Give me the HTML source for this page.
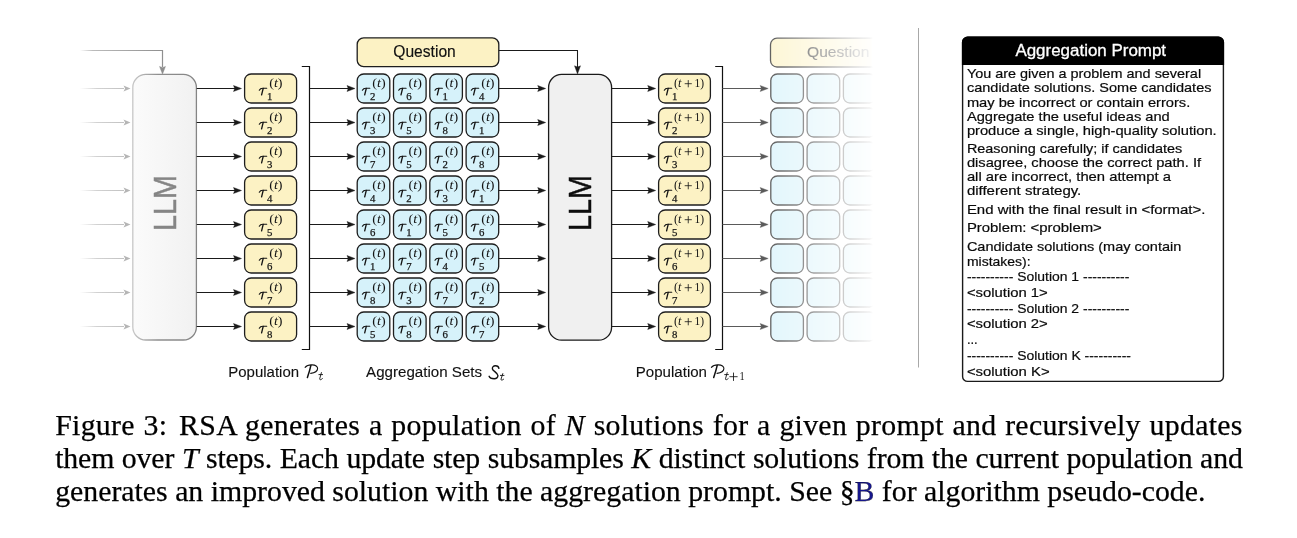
<!DOCTYPE html>
<html><head><meta charset="utf-8"><style>
html,body{margin:0;padding:0;background:#fff;width:1297px;height:538px;overflow:hidden;position:relative}
.cap{position:absolute;left:55.2px;top:408.7px;width:1187.5px;font-family:"Liberation Serif",serif;font-size:29.8px;line-height:32.9px;color:#000;white-space:nowrap;-webkit-text-stroke:0.25px #000}
.j{text-align:justify;text-align-last:justify}
</style></head><body>
<svg width="1297" height="538" viewBox="0 0 1297 538" style="position:absolute;left:0;top:0;will-change:transform"><defs>
<linearGradient id="llm1g" x1="0" x2="1" y1="0" y2="0">
 <stop offset="0" stop-color="#fbfbfb"/><stop offset="1" stop-color="#f1f1f1"/></linearGradient>
<linearGradient id="llm1s" x1="0" x2="1" y1="0" y2="0">
 <stop offset="0" stop-color="#c8c8c8"/><stop offset="0.4" stop-color="#8e8e8e"/><stop offset="1" stop-color="#858585"/></linearGradient>
<linearGradient id="fbg" gradientUnits="userSpaceOnUse" x1="80" x2="165" y1="0" y2="0">
 <stop offset="0" stop-color="#fff"/><stop offset="0.15" stop-color="#bbb"/><stop offset="1" stop-color="#8e8e8e"/></linearGradient>
<linearGradient id="fadein" gradientUnits="userSpaceOnUse" x1="80" x2="165" y1="0" y2="0">
 <stop offset="0" stop-color="#fff"/><stop offset="0.2" stop-color="#d2d2d2"/><stop offset="0.55" stop-color="#c0c0c0"/><stop offset="1" stop-color="#a8a8a8"/></linearGradient>
<linearGradient id="fadeout" gradientUnits="userSpaceOnUse" x1="770" x2="873" y1="0" y2="0">
 <stop offset="0" stop-color="#fff" stop-opacity="0.7"/><stop offset="0.97" stop-color="#fff" stop-opacity="0.06"/><stop offset="1" stop-color="#fff" stop-opacity="0"/></linearGradient>
<mask id="fademask" maskUnits="userSpaceOnUse" x="760" y="0" width="140" height="400">
 <rect x="760" y="0" width="140" height="400" fill="url(#fadeout)"/></mask>
<linearGradient id="qfade" gradientUnits="userSpaceOnUse" x1="770" x2="875" y1="0" y2="0">
 <stop offset="0" stop-color="#fff"/><stop offset="1" stop-color="#fff"/></linearGradient>
</defs>
<path d="M80,50.5 H162.5 V67" fill="none" stroke="url(#fbg)" stroke-width="1.2"/>
<path d="M162.5,74.2 L159.5,66.4 L162.5,67.6 L165.5,66.4 Z" fill="#8e8e8e" stroke="#8e8e8e" stroke-width="0.4" stroke-linejoin="round"/>
<line x1="80" y1="88.5" x2="124" y2="88.5" stroke="url(#fadein)" stroke-width="1.1"/>
<path d="M130.5,88.5 L123.5,85.4 L125.1,88.5 L123.5,91.6 Z" fill="#b5b5b5"/>
<line x1="80" y1="122.5" x2="124" y2="122.5" stroke="url(#fadein)" stroke-width="1.1"/>
<path d="M130.5,122.5 L123.5,119.4 L125.1,122.5 L123.5,125.6 Z" fill="#b5b5b5"/>
<line x1="80" y1="156.5" x2="124" y2="156.5" stroke="url(#fadein)" stroke-width="1.1"/>
<path d="M130.5,156.5 L123.5,153.4 L125.1,156.5 L123.5,159.6 Z" fill="#b5b5b5"/>
<line x1="80" y1="190.5" x2="124" y2="190.5" stroke="url(#fadein)" stroke-width="1.1"/>
<path d="M130.5,190.5 L123.5,187.4 L125.1,190.5 L123.5,193.6 Z" fill="#b5b5b5"/>
<line x1="80" y1="224.5" x2="124" y2="224.5" stroke="url(#fadein)" stroke-width="1.1"/>
<path d="M130.5,224.5 L123.5,221.4 L125.1,224.5 L123.5,227.6 Z" fill="#b5b5b5"/>
<line x1="80" y1="258.5" x2="124" y2="258.5" stroke="url(#fadein)" stroke-width="1.1"/>
<path d="M130.5,258.5 L123.5,255.4 L125.1,258.5 L123.5,261.6 Z" fill="#b5b5b5"/>
<line x1="80" y1="292.5" x2="124" y2="292.5" stroke="url(#fadein)" stroke-width="1.1"/>
<path d="M130.5,292.5 L123.5,289.4 L125.1,292.5 L123.5,295.6 Z" fill="#b5b5b5"/>
<line x1="80" y1="326.5" x2="124" y2="326.5" stroke="url(#fadein)" stroke-width="1.1"/>
<path d="M130.5,326.5 L123.5,323.4 L125.1,326.5 L123.5,329.6 Z" fill="#b5b5b5"/>
<rect x="132.8" y="74.4" width="63.6" height="265.6" rx="13" fill="url(#llm1g)" stroke="url(#llm1s)" stroke-width="1.3"/>
<text transform="translate(175.5,203) rotate(-90)" text-anchor="middle" font-family="Liberation Sans" font-size="31" fill="#858585" stroke="#858585" stroke-width="0.5" textLength="56" lengthAdjust="spacingAndGlyphs">LLM</text>
<line x1="196.7" y1="88.5" x2="235.0" y2="88.5" stroke="#1a1a1a" stroke-width="1.1"/><path d="M241.5,88.5 L233.5,85.5 L234.7,88.5 L233.5,91.5 Z" fill="#1a1a1a" stroke="#1a1a1a" stroke-width="0.4" stroke-linejoin="round"/>
<line x1="196.7" y1="122.5" x2="235.0" y2="122.5" stroke="#1a1a1a" stroke-width="1.1"/><path d="M241.5,122.5 L233.5,119.5 L234.7,122.5 L233.5,125.5 Z" fill="#1a1a1a" stroke="#1a1a1a" stroke-width="0.4" stroke-linejoin="round"/>
<line x1="196.7" y1="156.5" x2="235.0" y2="156.5" stroke="#1a1a1a" stroke-width="1.1"/><path d="M241.5,156.5 L233.5,153.5 L234.7,156.5 L233.5,159.5 Z" fill="#1a1a1a" stroke="#1a1a1a" stroke-width="0.4" stroke-linejoin="round"/>
<line x1="196.7" y1="190.5" x2="235.0" y2="190.5" stroke="#1a1a1a" stroke-width="1.1"/><path d="M241.5,190.5 L233.5,187.5 L234.7,190.5 L233.5,193.5 Z" fill="#1a1a1a" stroke="#1a1a1a" stroke-width="0.4" stroke-linejoin="round"/>
<line x1="196.7" y1="224.5" x2="235.0" y2="224.5" stroke="#1a1a1a" stroke-width="1.1"/><path d="M241.5,224.5 L233.5,221.5 L234.7,224.5 L233.5,227.5 Z" fill="#1a1a1a" stroke="#1a1a1a" stroke-width="0.4" stroke-linejoin="round"/>
<line x1="196.7" y1="258.5" x2="235.0" y2="258.5" stroke="#1a1a1a" stroke-width="1.1"/><path d="M241.5,258.5 L233.5,255.5 L234.7,258.5 L233.5,261.5 Z" fill="#1a1a1a" stroke="#1a1a1a" stroke-width="0.4" stroke-linejoin="round"/>
<line x1="196.7" y1="292.5" x2="235.0" y2="292.5" stroke="#1a1a1a" stroke-width="1.1"/><path d="M241.5,292.5 L233.5,289.5 L234.7,292.5 L233.5,295.5 Z" fill="#1a1a1a" stroke="#1a1a1a" stroke-width="0.4" stroke-linejoin="round"/>
<line x1="196.7" y1="326.5" x2="235.0" y2="326.5" stroke="#1a1a1a" stroke-width="1.1"/><path d="M241.5,326.5 L233.5,323.5 L234.7,326.5 L233.5,329.5 Z" fill="#1a1a1a" stroke="#1a1a1a" stroke-width="0.4" stroke-linejoin="round"/>
<rect x="244.6" y="74.0" width="52" height="29.0" rx="6.5" fill="#fcf2c4" stroke="#1e1e1e" stroke-width="1.3"/>
<path d="M259.30,90.20 Q260.30,88.20 262.70,88.20 L266.70,88.20" fill="none" stroke="#141414" stroke-width="1.15" stroke-linecap="round"/><path d="M263.20,88.40 L261.60,94.80" fill="none" stroke="#141414" stroke-width="1.35" stroke-linecap="round"/><text x="266.90" y="99.60" font-family="Liberation Serif" font-size="11.4" fill="#141414" stroke="#141414" stroke-width="0.25" textLength="5.4" lengthAdjust="spacingAndGlyphs">1</text><text x="269.20" y="86.90" font-family="Liberation Serif" font-size="12.3" fill="#141414" textLength="13.4" lengthAdjust="spacingAndGlyphs">(<tspan font-style="italic">t</tspan>)</text>
<rect x="244.6" y="108.0" width="52" height="29.0" rx="6.5" fill="#fcf2c4" stroke="#1e1e1e" stroke-width="1.3"/>
<path d="M259.30,124.20 Q260.30,122.20 262.70,122.20 L266.70,122.20" fill="none" stroke="#141414" stroke-width="1.15" stroke-linecap="round"/><path d="M263.20,122.40 L261.60,128.80" fill="none" stroke="#141414" stroke-width="1.35" stroke-linecap="round"/><text x="266.90" y="133.60" font-family="Liberation Serif" font-size="11.4" fill="#141414" stroke="#141414" stroke-width="0.25" textLength="5.4" lengthAdjust="spacingAndGlyphs">2</text><text x="269.20" y="120.90" font-family="Liberation Serif" font-size="12.3" fill="#141414" textLength="13.4" lengthAdjust="spacingAndGlyphs">(<tspan font-style="italic">t</tspan>)</text>
<rect x="244.6" y="142.0" width="52" height="29.0" rx="6.5" fill="#fcf2c4" stroke="#1e1e1e" stroke-width="1.3"/>
<path d="M259.30,158.20 Q260.30,156.20 262.70,156.20 L266.70,156.20" fill="none" stroke="#141414" stroke-width="1.15" stroke-linecap="round"/><path d="M263.20,156.40 L261.60,162.80" fill="none" stroke="#141414" stroke-width="1.35" stroke-linecap="round"/><text x="266.90" y="167.60" font-family="Liberation Serif" font-size="11.4" fill="#141414" stroke="#141414" stroke-width="0.25" textLength="5.4" lengthAdjust="spacingAndGlyphs">3</text><text x="269.20" y="154.90" font-family="Liberation Serif" font-size="12.3" fill="#141414" textLength="13.4" lengthAdjust="spacingAndGlyphs">(<tspan font-style="italic">t</tspan>)</text>
<rect x="244.6" y="176.0" width="52" height="29.0" rx="6.5" fill="#fcf2c4" stroke="#1e1e1e" stroke-width="1.3"/>
<path d="M259.30,192.20 Q260.30,190.20 262.70,190.20 L266.70,190.20" fill="none" stroke="#141414" stroke-width="1.15" stroke-linecap="round"/><path d="M263.20,190.40 L261.60,196.80" fill="none" stroke="#141414" stroke-width="1.35" stroke-linecap="round"/><text x="266.90" y="201.60" font-family="Liberation Serif" font-size="11.4" fill="#141414" stroke="#141414" stroke-width="0.25" textLength="5.4" lengthAdjust="spacingAndGlyphs">4</text><text x="269.20" y="188.90" font-family="Liberation Serif" font-size="12.3" fill="#141414" textLength="13.4" lengthAdjust="spacingAndGlyphs">(<tspan font-style="italic">t</tspan>)</text>
<rect x="244.6" y="210.0" width="52" height="29.0" rx="6.5" fill="#fcf2c4" stroke="#1e1e1e" stroke-width="1.3"/>
<path d="M259.30,226.20 Q260.30,224.20 262.70,224.20 L266.70,224.20" fill="none" stroke="#141414" stroke-width="1.15" stroke-linecap="round"/><path d="M263.20,224.40 L261.60,230.80" fill="none" stroke="#141414" stroke-width="1.35" stroke-linecap="round"/><text x="266.90" y="235.60" font-family="Liberation Serif" font-size="11.4" fill="#141414" stroke="#141414" stroke-width="0.25" textLength="5.4" lengthAdjust="spacingAndGlyphs">5</text><text x="269.20" y="222.90" font-family="Liberation Serif" font-size="12.3" fill="#141414" textLength="13.4" lengthAdjust="spacingAndGlyphs">(<tspan font-style="italic">t</tspan>)</text>
<rect x="244.6" y="244.0" width="52" height="29.0" rx="6.5" fill="#fcf2c4" stroke="#1e1e1e" stroke-width="1.3"/>
<path d="M259.30,260.20 Q260.30,258.20 262.70,258.20 L266.70,258.20" fill="none" stroke="#141414" stroke-width="1.15" stroke-linecap="round"/><path d="M263.20,258.40 L261.60,264.80" fill="none" stroke="#141414" stroke-width="1.35" stroke-linecap="round"/><text x="266.90" y="269.60" font-family="Liberation Serif" font-size="11.4" fill="#141414" stroke="#141414" stroke-width="0.25" textLength="5.4" lengthAdjust="spacingAndGlyphs">6</text><text x="269.20" y="256.90" font-family="Liberation Serif" font-size="12.3" fill="#141414" textLength="13.4" lengthAdjust="spacingAndGlyphs">(<tspan font-style="italic">t</tspan>)</text>
<rect x="244.6" y="278.0" width="52" height="29.0" rx="6.5" fill="#fcf2c4" stroke="#1e1e1e" stroke-width="1.3"/>
<path d="M259.30,294.20 Q260.30,292.20 262.70,292.20 L266.70,292.20" fill="none" stroke="#141414" stroke-width="1.15" stroke-linecap="round"/><path d="M263.20,292.40 L261.60,298.80" fill="none" stroke="#141414" stroke-width="1.35" stroke-linecap="round"/><text x="266.90" y="303.60" font-family="Liberation Serif" font-size="11.4" fill="#141414" stroke="#141414" stroke-width="0.25" textLength="5.4" lengthAdjust="spacingAndGlyphs">7</text><text x="269.20" y="290.90" font-family="Liberation Serif" font-size="12.3" fill="#141414" textLength="13.4" lengthAdjust="spacingAndGlyphs">(<tspan font-style="italic">t</tspan>)</text>
<rect x="244.6" y="312.0" width="52" height="29.0" rx="6.5" fill="#fcf2c4" stroke="#1e1e1e" stroke-width="1.3"/>
<path d="M259.30,328.20 Q260.30,326.20 262.70,326.20 L266.70,326.20" fill="none" stroke="#141414" stroke-width="1.15" stroke-linecap="round"/><path d="M263.20,326.40 L261.60,332.80" fill="none" stroke="#141414" stroke-width="1.35" stroke-linecap="round"/><text x="266.90" y="337.60" font-family="Liberation Serif" font-size="11.4" fill="#141414" stroke="#141414" stroke-width="0.25" textLength="5.4" lengthAdjust="spacingAndGlyphs">8</text><text x="269.20" y="324.90" font-family="Liberation Serif" font-size="12.3" fill="#141414" textLength="13.4" lengthAdjust="spacingAndGlyphs">(<tspan font-style="italic">t</tspan>)</text>
<path d="M301.8,66.5 H309.5 V349.5 H301.8" fill="none" stroke="#111" stroke-width="1.2"/>
<line x1="309.5" y1="88.5" x2="348.5" y2="88.5" stroke="#1a1a1a" stroke-width="1.1"/><path d="M355.0,88.5 L347.0,85.5 L348.2,88.5 L347.0,91.5 Z" fill="#1a1a1a" stroke="#1a1a1a" stroke-width="0.4" stroke-linejoin="round"/>
<line x1="309.5" y1="122.5" x2="348.5" y2="122.5" stroke="#1a1a1a" stroke-width="1.1"/><path d="M355.0,122.5 L347.0,119.5 L348.2,122.5 L347.0,125.5 Z" fill="#1a1a1a" stroke="#1a1a1a" stroke-width="0.4" stroke-linejoin="round"/>
<line x1="309.5" y1="156.5" x2="348.5" y2="156.5" stroke="#1a1a1a" stroke-width="1.1"/><path d="M355.0,156.5 L347.0,153.5 L348.2,156.5 L347.0,159.5 Z" fill="#1a1a1a" stroke="#1a1a1a" stroke-width="0.4" stroke-linejoin="round"/>
<line x1="309.5" y1="190.5" x2="348.5" y2="190.5" stroke="#1a1a1a" stroke-width="1.1"/><path d="M355.0,190.5 L347.0,187.5 L348.2,190.5 L347.0,193.5 Z" fill="#1a1a1a" stroke="#1a1a1a" stroke-width="0.4" stroke-linejoin="round"/>
<line x1="309.5" y1="224.5" x2="348.5" y2="224.5" stroke="#1a1a1a" stroke-width="1.1"/><path d="M355.0,224.5 L347.0,221.5 L348.2,224.5 L347.0,227.5 Z" fill="#1a1a1a" stroke="#1a1a1a" stroke-width="0.4" stroke-linejoin="round"/>
<line x1="309.5" y1="258.5" x2="348.5" y2="258.5" stroke="#1a1a1a" stroke-width="1.1"/><path d="M355.0,258.5 L347.0,255.5 L348.2,258.5 L347.0,261.5 Z" fill="#1a1a1a" stroke="#1a1a1a" stroke-width="0.4" stroke-linejoin="round"/>
<line x1="309.5" y1="292.5" x2="348.5" y2="292.5" stroke="#1a1a1a" stroke-width="1.1"/><path d="M355.0,292.5 L347.0,289.5 L348.2,292.5 L347.0,295.5 Z" fill="#1a1a1a" stroke="#1a1a1a" stroke-width="0.4" stroke-linejoin="round"/>
<line x1="309.5" y1="326.5" x2="348.5" y2="326.5" stroke="#1a1a1a" stroke-width="1.1"/><path d="M355.0,326.5 L347.0,323.5 L348.2,326.5 L347.0,329.5 Z" fill="#1a1a1a" stroke="#1a1a1a" stroke-width="0.4" stroke-linejoin="round"/>
<rect x="357.2" y="37.9" width="141.6" height="28.8" rx="6.5" fill="#fcf2c4" stroke="#1e1e1e" stroke-width="1.3"/>
<text x="424.5" y="56.6" text-anchor="middle" font-family="Liberation Sans" font-size="16.2" fill="#111" stroke="#111" stroke-width="0.15" textLength="62.5" lengthAdjust="spacingAndGlyphs">Question</text>
<path d="M498.8,50.5 H577.5 V67" fill="none" stroke="#1a1a1a" stroke-width="1.05"/>
<path d="M577.5,74.0 L574.5,65.8 L577.5,67.0 L580.5,65.8 Z" fill="#1a1a1a" stroke="#1a1a1a" stroke-width="0.4" stroke-linejoin="round"/>
<rect x="357.2" y="74.0" width="32.6" height="29.0" rx="6.5" fill="#d6f2fa" stroke="#1e1e1e" stroke-width="1.3"/>
<path d="M362.40,90.20 Q363.40,88.20 365.80,88.20 L369.80,88.20" fill="none" stroke="#141414" stroke-width="1.15" stroke-linecap="round"/><path d="M366.30,88.40 L364.70,94.80" fill="none" stroke="#141414" stroke-width="1.35" stroke-linecap="round"/><text x="370.00" y="99.60" font-family="Liberation Serif" font-size="11.4" fill="#141414" stroke="#141414" stroke-width="0.25" textLength="5.4" lengthAdjust="spacingAndGlyphs">2</text><text x="372.30" y="86.90" font-family="Liberation Serif" font-size="12.3" fill="#141414" textLength="13.4" lengthAdjust="spacingAndGlyphs">(<tspan font-style="italic">t</tspan>)</text>
<rect x="393.5" y="74.0" width="32.6" height="29.0" rx="6.5" fill="#d6f2fa" stroke="#1e1e1e" stroke-width="1.3"/>
<path d="M398.70,90.20 Q399.70,88.20 402.10,88.20 L406.10,88.20" fill="none" stroke="#141414" stroke-width="1.15" stroke-linecap="round"/><path d="M402.60,88.40 L401.00,94.80" fill="none" stroke="#141414" stroke-width="1.35" stroke-linecap="round"/><text x="406.30" y="99.60" font-family="Liberation Serif" font-size="11.4" fill="#141414" stroke="#141414" stroke-width="0.25" textLength="5.4" lengthAdjust="spacingAndGlyphs">6</text><text x="408.60" y="86.90" font-family="Liberation Serif" font-size="12.3" fill="#141414" textLength="13.4" lengthAdjust="spacingAndGlyphs">(<tspan font-style="italic">t</tspan>)</text>
<rect x="429.8" y="74.0" width="32.6" height="29.0" rx="6.5" fill="#d6f2fa" stroke="#1e1e1e" stroke-width="1.3"/>
<path d="M435.00,90.20 Q436.00,88.20 438.40,88.20 L442.40,88.20" fill="none" stroke="#141414" stroke-width="1.15" stroke-linecap="round"/><path d="M438.90,88.40 L437.30,94.80" fill="none" stroke="#141414" stroke-width="1.35" stroke-linecap="round"/><text x="442.60" y="99.60" font-family="Liberation Serif" font-size="11.4" fill="#141414" stroke="#141414" stroke-width="0.25" textLength="5.4" lengthAdjust="spacingAndGlyphs">1</text><text x="444.90" y="86.90" font-family="Liberation Serif" font-size="12.3" fill="#141414" textLength="13.4" lengthAdjust="spacingAndGlyphs">(<tspan font-style="italic">t</tspan>)</text>
<rect x="466.1" y="74.0" width="32.6" height="29.0" rx="6.5" fill="#d6f2fa" stroke="#1e1e1e" stroke-width="1.3"/>
<path d="M471.30,90.20 Q472.30,88.20 474.70,88.20 L478.70,88.20" fill="none" stroke="#141414" stroke-width="1.15" stroke-linecap="round"/><path d="M475.20,88.40 L473.60,94.80" fill="none" stroke="#141414" stroke-width="1.35" stroke-linecap="round"/><text x="478.90" y="99.60" font-family="Liberation Serif" font-size="11.4" fill="#141414" stroke="#141414" stroke-width="0.25" textLength="5.4" lengthAdjust="spacingAndGlyphs">4</text><text x="481.20" y="86.90" font-family="Liberation Serif" font-size="12.3" fill="#141414" textLength="13.4" lengthAdjust="spacingAndGlyphs">(<tspan font-style="italic">t</tspan>)</text>
<rect x="357.2" y="108.0" width="32.6" height="29.0" rx="6.5" fill="#d6f2fa" stroke="#1e1e1e" stroke-width="1.3"/>
<path d="M362.40,124.20 Q363.40,122.20 365.80,122.20 L369.80,122.20" fill="none" stroke="#141414" stroke-width="1.15" stroke-linecap="round"/><path d="M366.30,122.40 L364.70,128.80" fill="none" stroke="#141414" stroke-width="1.35" stroke-linecap="round"/><text x="370.00" y="133.60" font-family="Liberation Serif" font-size="11.4" fill="#141414" stroke="#141414" stroke-width="0.25" textLength="5.4" lengthAdjust="spacingAndGlyphs">3</text><text x="372.30" y="120.90" font-family="Liberation Serif" font-size="12.3" fill="#141414" textLength="13.4" lengthAdjust="spacingAndGlyphs">(<tspan font-style="italic">t</tspan>)</text>
<rect x="393.5" y="108.0" width="32.6" height="29.0" rx="6.5" fill="#d6f2fa" stroke="#1e1e1e" stroke-width="1.3"/>
<path d="M398.70,124.20 Q399.70,122.20 402.10,122.20 L406.10,122.20" fill="none" stroke="#141414" stroke-width="1.15" stroke-linecap="round"/><path d="M402.60,122.40 L401.00,128.80" fill="none" stroke="#141414" stroke-width="1.35" stroke-linecap="round"/><text x="406.30" y="133.60" font-family="Liberation Serif" font-size="11.4" fill="#141414" stroke="#141414" stroke-width="0.25" textLength="5.4" lengthAdjust="spacingAndGlyphs">5</text><text x="408.60" y="120.90" font-family="Liberation Serif" font-size="12.3" fill="#141414" textLength="13.4" lengthAdjust="spacingAndGlyphs">(<tspan font-style="italic">t</tspan>)</text>
<rect x="429.8" y="108.0" width="32.6" height="29.0" rx="6.5" fill="#d6f2fa" stroke="#1e1e1e" stroke-width="1.3"/>
<path d="M435.00,124.20 Q436.00,122.20 438.40,122.20 L442.40,122.20" fill="none" stroke="#141414" stroke-width="1.15" stroke-linecap="round"/><path d="M438.90,122.40 L437.30,128.80" fill="none" stroke="#141414" stroke-width="1.35" stroke-linecap="round"/><text x="442.60" y="133.60" font-family="Liberation Serif" font-size="11.4" fill="#141414" stroke="#141414" stroke-width="0.25" textLength="5.4" lengthAdjust="spacingAndGlyphs">8</text><text x="444.90" y="120.90" font-family="Liberation Serif" font-size="12.3" fill="#141414" textLength="13.4" lengthAdjust="spacingAndGlyphs">(<tspan font-style="italic">t</tspan>)</text>
<rect x="466.1" y="108.0" width="32.6" height="29.0" rx="6.5" fill="#d6f2fa" stroke="#1e1e1e" stroke-width="1.3"/>
<path d="M471.30,124.20 Q472.30,122.20 474.70,122.20 L478.70,122.20" fill="none" stroke="#141414" stroke-width="1.15" stroke-linecap="round"/><path d="M475.20,122.40 L473.60,128.80" fill="none" stroke="#141414" stroke-width="1.35" stroke-linecap="round"/><text x="478.90" y="133.60" font-family="Liberation Serif" font-size="11.4" fill="#141414" stroke="#141414" stroke-width="0.25" textLength="5.4" lengthAdjust="spacingAndGlyphs">1</text><text x="481.20" y="120.90" font-family="Liberation Serif" font-size="12.3" fill="#141414" textLength="13.4" lengthAdjust="spacingAndGlyphs">(<tspan font-style="italic">t</tspan>)</text>
<rect x="357.2" y="142.0" width="32.6" height="29.0" rx="6.5" fill="#d6f2fa" stroke="#1e1e1e" stroke-width="1.3"/>
<path d="M362.40,158.20 Q363.40,156.20 365.80,156.20 L369.80,156.20" fill="none" stroke="#141414" stroke-width="1.15" stroke-linecap="round"/><path d="M366.30,156.40 L364.70,162.80" fill="none" stroke="#141414" stroke-width="1.35" stroke-linecap="round"/><text x="370.00" y="167.60" font-family="Liberation Serif" font-size="11.4" fill="#141414" stroke="#141414" stroke-width="0.25" textLength="5.4" lengthAdjust="spacingAndGlyphs">7</text><text x="372.30" y="154.90" font-family="Liberation Serif" font-size="12.3" fill="#141414" textLength="13.4" lengthAdjust="spacingAndGlyphs">(<tspan font-style="italic">t</tspan>)</text>
<rect x="393.5" y="142.0" width="32.6" height="29.0" rx="6.5" fill="#d6f2fa" stroke="#1e1e1e" stroke-width="1.3"/>
<path d="M398.70,158.20 Q399.70,156.20 402.10,156.20 L406.10,156.20" fill="none" stroke="#141414" stroke-width="1.15" stroke-linecap="round"/><path d="M402.60,156.40 L401.00,162.80" fill="none" stroke="#141414" stroke-width="1.35" stroke-linecap="round"/><text x="406.30" y="167.60" font-family="Liberation Serif" font-size="11.4" fill="#141414" stroke="#141414" stroke-width="0.25" textLength="5.4" lengthAdjust="spacingAndGlyphs">5</text><text x="408.60" y="154.90" font-family="Liberation Serif" font-size="12.3" fill="#141414" textLength="13.4" lengthAdjust="spacingAndGlyphs">(<tspan font-style="italic">t</tspan>)</text>
<rect x="429.8" y="142.0" width="32.6" height="29.0" rx="6.5" fill="#d6f2fa" stroke="#1e1e1e" stroke-width="1.3"/>
<path d="M435.00,158.20 Q436.00,156.20 438.40,156.20 L442.40,156.20" fill="none" stroke="#141414" stroke-width="1.15" stroke-linecap="round"/><path d="M438.90,156.40 L437.30,162.80" fill="none" stroke="#141414" stroke-width="1.35" stroke-linecap="round"/><text x="442.60" y="167.60" font-family="Liberation Serif" font-size="11.4" fill="#141414" stroke="#141414" stroke-width="0.25" textLength="5.4" lengthAdjust="spacingAndGlyphs">2</text><text x="444.90" y="154.90" font-family="Liberation Serif" font-size="12.3" fill="#141414" textLength="13.4" lengthAdjust="spacingAndGlyphs">(<tspan font-style="italic">t</tspan>)</text>
<rect x="466.1" y="142.0" width="32.6" height="29.0" rx="6.5" fill="#d6f2fa" stroke="#1e1e1e" stroke-width="1.3"/>
<path d="M471.30,158.20 Q472.30,156.20 474.70,156.20 L478.70,156.20" fill="none" stroke="#141414" stroke-width="1.15" stroke-linecap="round"/><path d="M475.20,156.40 L473.60,162.80" fill="none" stroke="#141414" stroke-width="1.35" stroke-linecap="round"/><text x="478.90" y="167.60" font-family="Liberation Serif" font-size="11.4" fill="#141414" stroke="#141414" stroke-width="0.25" textLength="5.4" lengthAdjust="spacingAndGlyphs">8</text><text x="481.20" y="154.90" font-family="Liberation Serif" font-size="12.3" fill="#141414" textLength="13.4" lengthAdjust="spacingAndGlyphs">(<tspan font-style="italic">t</tspan>)</text>
<rect x="357.2" y="176.0" width="32.6" height="29.0" rx="6.5" fill="#d6f2fa" stroke="#1e1e1e" stroke-width="1.3"/>
<path d="M362.40,192.20 Q363.40,190.20 365.80,190.20 L369.80,190.20" fill="none" stroke="#141414" stroke-width="1.15" stroke-linecap="round"/><path d="M366.30,190.40 L364.70,196.80" fill="none" stroke="#141414" stroke-width="1.35" stroke-linecap="round"/><text x="370.00" y="201.60" font-family="Liberation Serif" font-size="11.4" fill="#141414" stroke="#141414" stroke-width="0.25" textLength="5.4" lengthAdjust="spacingAndGlyphs">4</text><text x="372.30" y="188.90" font-family="Liberation Serif" font-size="12.3" fill="#141414" textLength="13.4" lengthAdjust="spacingAndGlyphs">(<tspan font-style="italic">t</tspan>)</text>
<rect x="393.5" y="176.0" width="32.6" height="29.0" rx="6.5" fill="#d6f2fa" stroke="#1e1e1e" stroke-width="1.3"/>
<path d="M398.70,192.20 Q399.70,190.20 402.10,190.20 L406.10,190.20" fill="none" stroke="#141414" stroke-width="1.15" stroke-linecap="round"/><path d="M402.60,190.40 L401.00,196.80" fill="none" stroke="#141414" stroke-width="1.35" stroke-linecap="round"/><text x="406.30" y="201.60" font-family="Liberation Serif" font-size="11.4" fill="#141414" stroke="#141414" stroke-width="0.25" textLength="5.4" lengthAdjust="spacingAndGlyphs">2</text><text x="408.60" y="188.90" font-family="Liberation Serif" font-size="12.3" fill="#141414" textLength="13.4" lengthAdjust="spacingAndGlyphs">(<tspan font-style="italic">t</tspan>)</text>
<rect x="429.8" y="176.0" width="32.6" height="29.0" rx="6.5" fill="#d6f2fa" stroke="#1e1e1e" stroke-width="1.3"/>
<path d="M435.00,192.20 Q436.00,190.20 438.40,190.20 L442.40,190.20" fill="none" stroke="#141414" stroke-width="1.15" stroke-linecap="round"/><path d="M438.90,190.40 L437.30,196.80" fill="none" stroke="#141414" stroke-width="1.35" stroke-linecap="round"/><text x="442.60" y="201.60" font-family="Liberation Serif" font-size="11.4" fill="#141414" stroke="#141414" stroke-width="0.25" textLength="5.4" lengthAdjust="spacingAndGlyphs">3</text><text x="444.90" y="188.90" font-family="Liberation Serif" font-size="12.3" fill="#141414" textLength="13.4" lengthAdjust="spacingAndGlyphs">(<tspan font-style="italic">t</tspan>)</text>
<rect x="466.1" y="176.0" width="32.6" height="29.0" rx="6.5" fill="#d6f2fa" stroke="#1e1e1e" stroke-width="1.3"/>
<path d="M471.30,192.20 Q472.30,190.20 474.70,190.20 L478.70,190.20" fill="none" stroke="#141414" stroke-width="1.15" stroke-linecap="round"/><path d="M475.20,190.40 L473.60,196.80" fill="none" stroke="#141414" stroke-width="1.35" stroke-linecap="round"/><text x="478.90" y="201.60" font-family="Liberation Serif" font-size="11.4" fill="#141414" stroke="#141414" stroke-width="0.25" textLength="5.4" lengthAdjust="spacingAndGlyphs">1</text><text x="481.20" y="188.90" font-family="Liberation Serif" font-size="12.3" fill="#141414" textLength="13.4" lengthAdjust="spacingAndGlyphs">(<tspan font-style="italic">t</tspan>)</text>
<rect x="357.2" y="210.0" width="32.6" height="29.0" rx="6.5" fill="#d6f2fa" stroke="#1e1e1e" stroke-width="1.3"/>
<path d="M362.40,226.20 Q363.40,224.20 365.80,224.20 L369.80,224.20" fill="none" stroke="#141414" stroke-width="1.15" stroke-linecap="round"/><path d="M366.30,224.40 L364.70,230.80" fill="none" stroke="#141414" stroke-width="1.35" stroke-linecap="round"/><text x="370.00" y="235.60" font-family="Liberation Serif" font-size="11.4" fill="#141414" stroke="#141414" stroke-width="0.25" textLength="5.4" lengthAdjust="spacingAndGlyphs">6</text><text x="372.30" y="222.90" font-family="Liberation Serif" font-size="12.3" fill="#141414" textLength="13.4" lengthAdjust="spacingAndGlyphs">(<tspan font-style="italic">t</tspan>)</text>
<rect x="393.5" y="210.0" width="32.6" height="29.0" rx="6.5" fill="#d6f2fa" stroke="#1e1e1e" stroke-width="1.3"/>
<path d="M398.70,226.20 Q399.70,224.20 402.10,224.20 L406.10,224.20" fill="none" stroke="#141414" stroke-width="1.15" stroke-linecap="round"/><path d="M402.60,224.40 L401.00,230.80" fill="none" stroke="#141414" stroke-width="1.35" stroke-linecap="round"/><text x="406.30" y="235.60" font-family="Liberation Serif" font-size="11.4" fill="#141414" stroke="#141414" stroke-width="0.25" textLength="5.4" lengthAdjust="spacingAndGlyphs">1</text><text x="408.60" y="222.90" font-family="Liberation Serif" font-size="12.3" fill="#141414" textLength="13.4" lengthAdjust="spacingAndGlyphs">(<tspan font-style="italic">t</tspan>)</text>
<rect x="429.8" y="210.0" width="32.6" height="29.0" rx="6.5" fill="#d6f2fa" stroke="#1e1e1e" stroke-width="1.3"/>
<path d="M435.00,226.20 Q436.00,224.20 438.40,224.20 L442.40,224.20" fill="none" stroke="#141414" stroke-width="1.15" stroke-linecap="round"/><path d="M438.90,224.40 L437.30,230.80" fill="none" stroke="#141414" stroke-width="1.35" stroke-linecap="round"/><text x="442.60" y="235.60" font-family="Liberation Serif" font-size="11.4" fill="#141414" stroke="#141414" stroke-width="0.25" textLength="5.4" lengthAdjust="spacingAndGlyphs">5</text><text x="444.90" y="222.90" font-family="Liberation Serif" font-size="12.3" fill="#141414" textLength="13.4" lengthAdjust="spacingAndGlyphs">(<tspan font-style="italic">t</tspan>)</text>
<rect x="466.1" y="210.0" width="32.6" height="29.0" rx="6.5" fill="#d6f2fa" stroke="#1e1e1e" stroke-width="1.3"/>
<path d="M471.30,226.20 Q472.30,224.20 474.70,224.20 L478.70,224.20" fill="none" stroke="#141414" stroke-width="1.15" stroke-linecap="round"/><path d="M475.20,224.40 L473.60,230.80" fill="none" stroke="#141414" stroke-width="1.35" stroke-linecap="round"/><text x="478.90" y="235.60" font-family="Liberation Serif" font-size="11.4" fill="#141414" stroke="#141414" stroke-width="0.25" textLength="5.4" lengthAdjust="spacingAndGlyphs">6</text><text x="481.20" y="222.90" font-family="Liberation Serif" font-size="12.3" fill="#141414" textLength="13.4" lengthAdjust="spacingAndGlyphs">(<tspan font-style="italic">t</tspan>)</text>
<rect x="357.2" y="244.0" width="32.6" height="29.0" rx="6.5" fill="#d6f2fa" stroke="#1e1e1e" stroke-width="1.3"/>
<path d="M362.40,260.20 Q363.40,258.20 365.80,258.20 L369.80,258.20" fill="none" stroke="#141414" stroke-width="1.15" stroke-linecap="round"/><path d="M366.30,258.40 L364.70,264.80" fill="none" stroke="#141414" stroke-width="1.35" stroke-linecap="round"/><text x="370.00" y="269.60" font-family="Liberation Serif" font-size="11.4" fill="#141414" stroke="#141414" stroke-width="0.25" textLength="5.4" lengthAdjust="spacingAndGlyphs">1</text><text x="372.30" y="256.90" font-family="Liberation Serif" font-size="12.3" fill="#141414" textLength="13.4" lengthAdjust="spacingAndGlyphs">(<tspan font-style="italic">t</tspan>)</text>
<rect x="393.5" y="244.0" width="32.6" height="29.0" rx="6.5" fill="#d6f2fa" stroke="#1e1e1e" stroke-width="1.3"/>
<path d="M398.70,260.20 Q399.70,258.20 402.10,258.20 L406.10,258.20" fill="none" stroke="#141414" stroke-width="1.15" stroke-linecap="round"/><path d="M402.60,258.40 L401.00,264.80" fill="none" stroke="#141414" stroke-width="1.35" stroke-linecap="round"/><text x="406.30" y="269.60" font-family="Liberation Serif" font-size="11.4" fill="#141414" stroke="#141414" stroke-width="0.25" textLength="5.4" lengthAdjust="spacingAndGlyphs">7</text><text x="408.60" y="256.90" font-family="Liberation Serif" font-size="12.3" fill="#141414" textLength="13.4" lengthAdjust="spacingAndGlyphs">(<tspan font-style="italic">t</tspan>)</text>
<rect x="429.8" y="244.0" width="32.6" height="29.0" rx="6.5" fill="#d6f2fa" stroke="#1e1e1e" stroke-width="1.3"/>
<path d="M435.00,260.20 Q436.00,258.20 438.40,258.20 L442.40,258.20" fill="none" stroke="#141414" stroke-width="1.15" stroke-linecap="round"/><path d="M438.90,258.40 L437.30,264.80" fill="none" stroke="#141414" stroke-width="1.35" stroke-linecap="round"/><text x="442.60" y="269.60" font-family="Liberation Serif" font-size="11.4" fill="#141414" stroke="#141414" stroke-width="0.25" textLength="5.4" lengthAdjust="spacingAndGlyphs">4</text><text x="444.90" y="256.90" font-family="Liberation Serif" font-size="12.3" fill="#141414" textLength="13.4" lengthAdjust="spacingAndGlyphs">(<tspan font-style="italic">t</tspan>)</text>
<rect x="466.1" y="244.0" width="32.6" height="29.0" rx="6.5" fill="#d6f2fa" stroke="#1e1e1e" stroke-width="1.3"/>
<path d="M471.30,260.20 Q472.30,258.20 474.70,258.20 L478.70,258.20" fill="none" stroke="#141414" stroke-width="1.15" stroke-linecap="round"/><path d="M475.20,258.40 L473.60,264.80" fill="none" stroke="#141414" stroke-width="1.35" stroke-linecap="round"/><text x="478.90" y="269.60" font-family="Liberation Serif" font-size="11.4" fill="#141414" stroke="#141414" stroke-width="0.25" textLength="5.4" lengthAdjust="spacingAndGlyphs">5</text><text x="481.20" y="256.90" font-family="Liberation Serif" font-size="12.3" fill="#141414" textLength="13.4" lengthAdjust="spacingAndGlyphs">(<tspan font-style="italic">t</tspan>)</text>
<rect x="357.2" y="278.0" width="32.6" height="29.0" rx="6.5" fill="#d6f2fa" stroke="#1e1e1e" stroke-width="1.3"/>
<path d="M362.40,294.20 Q363.40,292.20 365.80,292.20 L369.80,292.20" fill="none" stroke="#141414" stroke-width="1.15" stroke-linecap="round"/><path d="M366.30,292.40 L364.70,298.80" fill="none" stroke="#141414" stroke-width="1.35" stroke-linecap="round"/><text x="370.00" y="303.60" font-family="Liberation Serif" font-size="11.4" fill="#141414" stroke="#141414" stroke-width="0.25" textLength="5.4" lengthAdjust="spacingAndGlyphs">8</text><text x="372.30" y="290.90" font-family="Liberation Serif" font-size="12.3" fill="#141414" textLength="13.4" lengthAdjust="spacingAndGlyphs">(<tspan font-style="italic">t</tspan>)</text>
<rect x="393.5" y="278.0" width="32.6" height="29.0" rx="6.5" fill="#d6f2fa" stroke="#1e1e1e" stroke-width="1.3"/>
<path d="M398.70,294.20 Q399.70,292.20 402.10,292.20 L406.10,292.20" fill="none" stroke="#141414" stroke-width="1.15" stroke-linecap="round"/><path d="M402.60,292.40 L401.00,298.80" fill="none" stroke="#141414" stroke-width="1.35" stroke-linecap="round"/><text x="406.30" y="303.60" font-family="Liberation Serif" font-size="11.4" fill="#141414" stroke="#141414" stroke-width="0.25" textLength="5.4" lengthAdjust="spacingAndGlyphs">3</text><text x="408.60" y="290.90" font-family="Liberation Serif" font-size="12.3" fill="#141414" textLength="13.4" lengthAdjust="spacingAndGlyphs">(<tspan font-style="italic">t</tspan>)</text>
<rect x="429.8" y="278.0" width="32.6" height="29.0" rx="6.5" fill="#d6f2fa" stroke="#1e1e1e" stroke-width="1.3"/>
<path d="M435.00,294.20 Q436.00,292.20 438.40,292.20 L442.40,292.20" fill="none" stroke="#141414" stroke-width="1.15" stroke-linecap="round"/><path d="M438.90,292.40 L437.30,298.80" fill="none" stroke="#141414" stroke-width="1.35" stroke-linecap="round"/><text x="442.60" y="303.60" font-family="Liberation Serif" font-size="11.4" fill="#141414" stroke="#141414" stroke-width="0.25" textLength="5.4" lengthAdjust="spacingAndGlyphs">7</text><text x="444.90" y="290.90" font-family="Liberation Serif" font-size="12.3" fill="#141414" textLength="13.4" lengthAdjust="spacingAndGlyphs">(<tspan font-style="italic">t</tspan>)</text>
<rect x="466.1" y="278.0" width="32.6" height="29.0" rx="6.5" fill="#d6f2fa" stroke="#1e1e1e" stroke-width="1.3"/>
<path d="M471.30,294.20 Q472.30,292.20 474.70,292.20 L478.70,292.20" fill="none" stroke="#141414" stroke-width="1.15" stroke-linecap="round"/><path d="M475.20,292.40 L473.60,298.80" fill="none" stroke="#141414" stroke-width="1.35" stroke-linecap="round"/><text x="478.90" y="303.60" font-family="Liberation Serif" font-size="11.4" fill="#141414" stroke="#141414" stroke-width="0.25" textLength="5.4" lengthAdjust="spacingAndGlyphs">2</text><text x="481.20" y="290.90" font-family="Liberation Serif" font-size="12.3" fill="#141414" textLength="13.4" lengthAdjust="spacingAndGlyphs">(<tspan font-style="italic">t</tspan>)</text>
<rect x="357.2" y="312.0" width="32.6" height="29.0" rx="6.5" fill="#d6f2fa" stroke="#1e1e1e" stroke-width="1.3"/>
<path d="M362.40,328.20 Q363.40,326.20 365.80,326.20 L369.80,326.20" fill="none" stroke="#141414" stroke-width="1.15" stroke-linecap="round"/><path d="M366.30,326.40 L364.70,332.80" fill="none" stroke="#141414" stroke-width="1.35" stroke-linecap="round"/><text x="370.00" y="337.60" font-family="Liberation Serif" font-size="11.4" fill="#141414" stroke="#141414" stroke-width="0.25" textLength="5.4" lengthAdjust="spacingAndGlyphs">5</text><text x="372.30" y="324.90" font-family="Liberation Serif" font-size="12.3" fill="#141414" textLength="13.4" lengthAdjust="spacingAndGlyphs">(<tspan font-style="italic">t</tspan>)</text>
<rect x="393.5" y="312.0" width="32.6" height="29.0" rx="6.5" fill="#d6f2fa" stroke="#1e1e1e" stroke-width="1.3"/>
<path d="M398.70,328.20 Q399.70,326.20 402.10,326.20 L406.10,326.20" fill="none" stroke="#141414" stroke-width="1.15" stroke-linecap="round"/><path d="M402.60,326.40 L401.00,332.80" fill="none" stroke="#141414" stroke-width="1.35" stroke-linecap="round"/><text x="406.30" y="337.60" font-family="Liberation Serif" font-size="11.4" fill="#141414" stroke="#141414" stroke-width="0.25" textLength="5.4" lengthAdjust="spacingAndGlyphs">8</text><text x="408.60" y="324.90" font-family="Liberation Serif" font-size="12.3" fill="#141414" textLength="13.4" lengthAdjust="spacingAndGlyphs">(<tspan font-style="italic">t</tspan>)</text>
<rect x="429.8" y="312.0" width="32.6" height="29.0" rx="6.5" fill="#d6f2fa" stroke="#1e1e1e" stroke-width="1.3"/>
<path d="M435.00,328.20 Q436.00,326.20 438.40,326.20 L442.40,326.20" fill="none" stroke="#141414" stroke-width="1.15" stroke-linecap="round"/><path d="M438.90,326.40 L437.30,332.80" fill="none" stroke="#141414" stroke-width="1.35" stroke-linecap="round"/><text x="442.60" y="337.60" font-family="Liberation Serif" font-size="11.4" fill="#141414" stroke="#141414" stroke-width="0.25" textLength="5.4" lengthAdjust="spacingAndGlyphs">6</text><text x="444.90" y="324.90" font-family="Liberation Serif" font-size="12.3" fill="#141414" textLength="13.4" lengthAdjust="spacingAndGlyphs">(<tspan font-style="italic">t</tspan>)</text>
<rect x="466.1" y="312.0" width="32.6" height="29.0" rx="6.5" fill="#d6f2fa" stroke="#1e1e1e" stroke-width="1.3"/>
<path d="M471.30,328.20 Q472.30,326.20 474.70,326.20 L478.70,326.20" fill="none" stroke="#141414" stroke-width="1.15" stroke-linecap="round"/><path d="M475.20,326.40 L473.60,332.80" fill="none" stroke="#141414" stroke-width="1.35" stroke-linecap="round"/><text x="478.90" y="337.60" font-family="Liberation Serif" font-size="11.4" fill="#141414" stroke="#141414" stroke-width="0.25" textLength="5.4" lengthAdjust="spacingAndGlyphs">7</text><text x="481.20" y="324.90" font-family="Liberation Serif" font-size="12.3" fill="#141414" textLength="13.4" lengthAdjust="spacingAndGlyphs">(<tspan font-style="italic">t</tspan>)</text>
<line x1="498.8" y1="88.5" x2="539.2" y2="88.5" stroke="#1a1a1a" stroke-width="1.1"/><path d="M545.7,88.5 L537.7,85.5 L538.9000000000001,88.5 L537.7,91.5 Z" fill="#1a1a1a" stroke="#1a1a1a" stroke-width="0.4" stroke-linejoin="round"/>
<line x1="498.8" y1="122.5" x2="539.2" y2="122.5" stroke="#1a1a1a" stroke-width="1.1"/><path d="M545.7,122.5 L537.7,119.5 L538.9000000000001,122.5 L537.7,125.5 Z" fill="#1a1a1a" stroke="#1a1a1a" stroke-width="0.4" stroke-linejoin="round"/>
<line x1="498.8" y1="156.5" x2="539.2" y2="156.5" stroke="#1a1a1a" stroke-width="1.1"/><path d="M545.7,156.5 L537.7,153.5 L538.9000000000001,156.5 L537.7,159.5 Z" fill="#1a1a1a" stroke="#1a1a1a" stroke-width="0.4" stroke-linejoin="round"/>
<line x1="498.8" y1="190.5" x2="539.2" y2="190.5" stroke="#1a1a1a" stroke-width="1.1"/><path d="M545.7,190.5 L537.7,187.5 L538.9000000000001,190.5 L537.7,193.5 Z" fill="#1a1a1a" stroke="#1a1a1a" stroke-width="0.4" stroke-linejoin="round"/>
<line x1="498.8" y1="224.5" x2="539.2" y2="224.5" stroke="#1a1a1a" stroke-width="1.1"/><path d="M545.7,224.5 L537.7,221.5 L538.9000000000001,224.5 L537.7,227.5 Z" fill="#1a1a1a" stroke="#1a1a1a" stroke-width="0.4" stroke-linejoin="round"/>
<line x1="498.8" y1="258.5" x2="539.2" y2="258.5" stroke="#1a1a1a" stroke-width="1.1"/><path d="M545.7,258.5 L537.7,255.5 L538.9000000000001,258.5 L537.7,261.5 Z" fill="#1a1a1a" stroke="#1a1a1a" stroke-width="0.4" stroke-linejoin="round"/>
<line x1="498.8" y1="292.5" x2="539.2" y2="292.5" stroke="#1a1a1a" stroke-width="1.1"/><path d="M545.7,292.5 L537.7,289.5 L538.9000000000001,292.5 L537.7,295.5 Z" fill="#1a1a1a" stroke="#1a1a1a" stroke-width="0.4" stroke-linejoin="round"/>
<line x1="498.8" y1="326.5" x2="539.2" y2="326.5" stroke="#1a1a1a" stroke-width="1.1"/><path d="M545.7,326.5 L537.7,323.5 L538.9000000000001,326.5 L537.7,329.5 Z" fill="#1a1a1a" stroke="#1a1a1a" stroke-width="0.4" stroke-linejoin="round"/>
<rect x="548.6" y="74.4" width="63" height="265.8" rx="13" fill="#f0f0f0" stroke="#1a1a1a" stroke-width="1.3"/>
<text transform="translate(591,203) rotate(-90)" text-anchor="middle" font-family="Liberation Sans" font-size="31" fill="#0d0d0d" stroke="#0d0d0d" stroke-width="0.5" textLength="56" lengthAdjust="spacingAndGlyphs">LLM</text>
<line x1="611.6" y1="88.5" x2="649.2" y2="88.5" stroke="#1a1a1a" stroke-width="1.1"/><path d="M655.7,88.5 L647.7,85.5 L648.9000000000001,88.5 L647.7,91.5 Z" fill="#1a1a1a" stroke="#1a1a1a" stroke-width="0.4" stroke-linejoin="round"/>
<line x1="611.6" y1="122.5" x2="649.2" y2="122.5" stroke="#1a1a1a" stroke-width="1.1"/><path d="M655.7,122.5 L647.7,119.5 L648.9000000000001,122.5 L647.7,125.5 Z" fill="#1a1a1a" stroke="#1a1a1a" stroke-width="0.4" stroke-linejoin="round"/>
<line x1="611.6" y1="156.5" x2="649.2" y2="156.5" stroke="#1a1a1a" stroke-width="1.1"/><path d="M655.7,156.5 L647.7,153.5 L648.9000000000001,156.5 L647.7,159.5 Z" fill="#1a1a1a" stroke="#1a1a1a" stroke-width="0.4" stroke-linejoin="round"/>
<line x1="611.6" y1="190.5" x2="649.2" y2="190.5" stroke="#1a1a1a" stroke-width="1.1"/><path d="M655.7,190.5 L647.7,187.5 L648.9000000000001,190.5 L647.7,193.5 Z" fill="#1a1a1a" stroke="#1a1a1a" stroke-width="0.4" stroke-linejoin="round"/>
<line x1="611.6" y1="224.5" x2="649.2" y2="224.5" stroke="#1a1a1a" stroke-width="1.1"/><path d="M655.7,224.5 L647.7,221.5 L648.9000000000001,224.5 L647.7,227.5 Z" fill="#1a1a1a" stroke="#1a1a1a" stroke-width="0.4" stroke-linejoin="round"/>
<line x1="611.6" y1="258.5" x2="649.2" y2="258.5" stroke="#1a1a1a" stroke-width="1.1"/><path d="M655.7,258.5 L647.7,255.5 L648.9000000000001,258.5 L647.7,261.5 Z" fill="#1a1a1a" stroke="#1a1a1a" stroke-width="0.4" stroke-linejoin="round"/>
<line x1="611.6" y1="292.5" x2="649.2" y2="292.5" stroke="#1a1a1a" stroke-width="1.1"/><path d="M655.7,292.5 L647.7,289.5 L648.9000000000001,292.5 L647.7,295.5 Z" fill="#1a1a1a" stroke="#1a1a1a" stroke-width="0.4" stroke-linejoin="round"/>
<line x1="611.6" y1="326.5" x2="649.2" y2="326.5" stroke="#1a1a1a" stroke-width="1.1"/><path d="M655.7,326.5 L647.7,323.5 L648.9000000000001,326.5 L647.7,329.5 Z" fill="#1a1a1a" stroke="#1a1a1a" stroke-width="0.4" stroke-linejoin="round"/>
<rect x="658.6" y="74.0" width="51.8" height="29.0" rx="6.5" fill="#fcf2c4" stroke="#1e1e1e" stroke-width="1.3"/>
<path d="M664.30,90.20 Q665.30,88.20 667.70,88.20 L671.70,88.20" fill="none" stroke="#141414" stroke-width="1.15" stroke-linecap="round"/><path d="M668.20,88.40 L666.60,94.80" fill="none" stroke="#141414" stroke-width="1.35" stroke-linecap="round"/><text x="671.90" y="99.60" font-family="Liberation Serif" font-size="11.4" fill="#141414" stroke="#141414" stroke-width="0.25" textLength="5.4" lengthAdjust="spacingAndGlyphs">1</text><text x="673.90" y="86.90" font-family="Liberation Serif" font-size="12.3" fill="#141414">(<tspan font-style="italic">t</tspan></text><path d="M684.70,83.70 H691.80 M688.25,80.10 V87.30" stroke="#141414" stroke-width="0.8" fill="none"/><text x="694.50" y="86.90" font-family="Liberation Serif" font-size="12.3" fill="#141414" textLength="9.6" lengthAdjust="spacingAndGlyphs">1)</text>
<rect x="658.6" y="108.0" width="51.8" height="29.0" rx="6.5" fill="#fcf2c4" stroke="#1e1e1e" stroke-width="1.3"/>
<path d="M664.30,124.20 Q665.30,122.20 667.70,122.20 L671.70,122.20" fill="none" stroke="#141414" stroke-width="1.15" stroke-linecap="round"/><path d="M668.20,122.40 L666.60,128.80" fill="none" stroke="#141414" stroke-width="1.35" stroke-linecap="round"/><text x="671.90" y="133.60" font-family="Liberation Serif" font-size="11.4" fill="#141414" stroke="#141414" stroke-width="0.25" textLength="5.4" lengthAdjust="spacingAndGlyphs">2</text><text x="673.90" y="120.90" font-family="Liberation Serif" font-size="12.3" fill="#141414">(<tspan font-style="italic">t</tspan></text><path d="M684.70,117.70 H691.80 M688.25,114.10 V121.30" stroke="#141414" stroke-width="0.8" fill="none"/><text x="694.50" y="120.90" font-family="Liberation Serif" font-size="12.3" fill="#141414" textLength="9.6" lengthAdjust="spacingAndGlyphs">1)</text>
<rect x="658.6" y="142.0" width="51.8" height="29.0" rx="6.5" fill="#fcf2c4" stroke="#1e1e1e" stroke-width="1.3"/>
<path d="M664.30,158.20 Q665.30,156.20 667.70,156.20 L671.70,156.20" fill="none" stroke="#141414" stroke-width="1.15" stroke-linecap="round"/><path d="M668.20,156.40 L666.60,162.80" fill="none" stroke="#141414" stroke-width="1.35" stroke-linecap="round"/><text x="671.90" y="167.60" font-family="Liberation Serif" font-size="11.4" fill="#141414" stroke="#141414" stroke-width="0.25" textLength="5.4" lengthAdjust="spacingAndGlyphs">3</text><text x="673.90" y="154.90" font-family="Liberation Serif" font-size="12.3" fill="#141414">(<tspan font-style="italic">t</tspan></text><path d="M684.70,151.70 H691.80 M688.25,148.10 V155.30" stroke="#141414" stroke-width="0.8" fill="none"/><text x="694.50" y="154.90" font-family="Liberation Serif" font-size="12.3" fill="#141414" textLength="9.6" lengthAdjust="spacingAndGlyphs">1)</text>
<rect x="658.6" y="176.0" width="51.8" height="29.0" rx="6.5" fill="#fcf2c4" stroke="#1e1e1e" stroke-width="1.3"/>
<path d="M664.30,192.20 Q665.30,190.20 667.70,190.20 L671.70,190.20" fill="none" stroke="#141414" stroke-width="1.15" stroke-linecap="round"/><path d="M668.20,190.40 L666.60,196.80" fill="none" stroke="#141414" stroke-width="1.35" stroke-linecap="round"/><text x="671.90" y="201.60" font-family="Liberation Serif" font-size="11.4" fill="#141414" stroke="#141414" stroke-width="0.25" textLength="5.4" lengthAdjust="spacingAndGlyphs">4</text><text x="673.90" y="188.90" font-family="Liberation Serif" font-size="12.3" fill="#141414">(<tspan font-style="italic">t</tspan></text><path d="M684.70,185.70 H691.80 M688.25,182.10 V189.30" stroke="#141414" stroke-width="0.8" fill="none"/><text x="694.50" y="188.90" font-family="Liberation Serif" font-size="12.3" fill="#141414" textLength="9.6" lengthAdjust="spacingAndGlyphs">1)</text>
<rect x="658.6" y="210.0" width="51.8" height="29.0" rx="6.5" fill="#fcf2c4" stroke="#1e1e1e" stroke-width="1.3"/>
<path d="M664.30,226.20 Q665.30,224.20 667.70,224.20 L671.70,224.20" fill="none" stroke="#141414" stroke-width="1.15" stroke-linecap="round"/><path d="M668.20,224.40 L666.60,230.80" fill="none" stroke="#141414" stroke-width="1.35" stroke-linecap="round"/><text x="671.90" y="235.60" font-family="Liberation Serif" font-size="11.4" fill="#141414" stroke="#141414" stroke-width="0.25" textLength="5.4" lengthAdjust="spacingAndGlyphs">5</text><text x="673.90" y="222.90" font-family="Liberation Serif" font-size="12.3" fill="#141414">(<tspan font-style="italic">t</tspan></text><path d="M684.70,219.70 H691.80 M688.25,216.10 V223.30" stroke="#141414" stroke-width="0.8" fill="none"/><text x="694.50" y="222.90" font-family="Liberation Serif" font-size="12.3" fill="#141414" textLength="9.6" lengthAdjust="spacingAndGlyphs">1)</text>
<rect x="658.6" y="244.0" width="51.8" height="29.0" rx="6.5" fill="#fcf2c4" stroke="#1e1e1e" stroke-width="1.3"/>
<path d="M664.30,260.20 Q665.30,258.20 667.70,258.20 L671.70,258.20" fill="none" stroke="#141414" stroke-width="1.15" stroke-linecap="round"/><path d="M668.20,258.40 L666.60,264.80" fill="none" stroke="#141414" stroke-width="1.35" stroke-linecap="round"/><text x="671.90" y="269.60" font-family="Liberation Serif" font-size="11.4" fill="#141414" stroke="#141414" stroke-width="0.25" textLength="5.4" lengthAdjust="spacingAndGlyphs">6</text><text x="673.90" y="256.90" font-family="Liberation Serif" font-size="12.3" fill="#141414">(<tspan font-style="italic">t</tspan></text><path d="M684.70,253.70 H691.80 M688.25,250.10 V257.30" stroke="#141414" stroke-width="0.8" fill="none"/><text x="694.50" y="256.90" font-family="Liberation Serif" font-size="12.3" fill="#141414" textLength="9.6" lengthAdjust="spacingAndGlyphs">1)</text>
<rect x="658.6" y="278.0" width="51.8" height="29.0" rx="6.5" fill="#fcf2c4" stroke="#1e1e1e" stroke-width="1.3"/>
<path d="M664.30,294.20 Q665.30,292.20 667.70,292.20 L671.70,292.20" fill="none" stroke="#141414" stroke-width="1.15" stroke-linecap="round"/><path d="M668.20,292.40 L666.60,298.80" fill="none" stroke="#141414" stroke-width="1.35" stroke-linecap="round"/><text x="671.90" y="303.60" font-family="Liberation Serif" font-size="11.4" fill="#141414" stroke="#141414" stroke-width="0.25" textLength="5.4" lengthAdjust="spacingAndGlyphs">7</text><text x="673.90" y="290.90" font-family="Liberation Serif" font-size="12.3" fill="#141414">(<tspan font-style="italic">t</tspan></text><path d="M684.70,287.70 H691.80 M688.25,284.10 V291.30" stroke="#141414" stroke-width="0.8" fill="none"/><text x="694.50" y="290.90" font-family="Liberation Serif" font-size="12.3" fill="#141414" textLength="9.6" lengthAdjust="spacingAndGlyphs">1)</text>
<rect x="658.6" y="312.0" width="51.8" height="29.0" rx="6.5" fill="#fcf2c4" stroke="#1e1e1e" stroke-width="1.3"/>
<path d="M664.30,328.20 Q665.30,326.20 667.70,326.20 L671.70,326.20" fill="none" stroke="#141414" stroke-width="1.15" stroke-linecap="round"/><path d="M668.20,326.40 L666.60,332.80" fill="none" stroke="#141414" stroke-width="1.35" stroke-linecap="round"/><text x="671.90" y="337.60" font-family="Liberation Serif" font-size="11.4" fill="#141414" stroke="#141414" stroke-width="0.25" textLength="5.4" lengthAdjust="spacingAndGlyphs">8</text><text x="673.90" y="324.90" font-family="Liberation Serif" font-size="12.3" fill="#141414">(<tspan font-style="italic">t</tspan></text><path d="M684.70,321.70 H691.80 M688.25,318.10 V325.30" stroke="#141414" stroke-width="0.8" fill="none"/><text x="694.50" y="324.90" font-family="Liberation Serif" font-size="12.3" fill="#141414" textLength="9.6" lengthAdjust="spacingAndGlyphs">1)</text>
<path d="M715.2,66.5 H722.5 V349.5 H715.2" fill="none" stroke="#111" stroke-width="1.2"/>
<line x1="722.5" y1="88.5" x2="761.7" y2="88.5" stroke="#5a5a5a" stroke-width="1.1"/><path d="M768.2,88.5 L760.2,85.5 L761.4000000000001,88.5 L760.2,91.5 Z" fill="#5a5a5a" stroke="#5a5a5a" stroke-width="0.4" stroke-linejoin="round"/>
<line x1="722.5" y1="122.5" x2="761.7" y2="122.5" stroke="#5a5a5a" stroke-width="1.1"/><path d="M768.2,122.5 L760.2,119.5 L761.4000000000001,122.5 L760.2,125.5 Z" fill="#5a5a5a" stroke="#5a5a5a" stroke-width="0.4" stroke-linejoin="round"/>
<line x1="722.5" y1="156.5" x2="761.7" y2="156.5" stroke="#5a5a5a" stroke-width="1.1"/><path d="M768.2,156.5 L760.2,153.5 L761.4000000000001,156.5 L760.2,159.5 Z" fill="#5a5a5a" stroke="#5a5a5a" stroke-width="0.4" stroke-linejoin="round"/>
<line x1="722.5" y1="190.5" x2="761.7" y2="190.5" stroke="#5a5a5a" stroke-width="1.1"/><path d="M768.2,190.5 L760.2,187.5 L761.4000000000001,190.5 L760.2,193.5 Z" fill="#5a5a5a" stroke="#5a5a5a" stroke-width="0.4" stroke-linejoin="round"/>
<line x1="722.5" y1="224.5" x2="761.7" y2="224.5" stroke="#5a5a5a" stroke-width="1.1"/><path d="M768.2,224.5 L760.2,221.5 L761.4000000000001,224.5 L760.2,227.5 Z" fill="#5a5a5a" stroke="#5a5a5a" stroke-width="0.4" stroke-linejoin="round"/>
<line x1="722.5" y1="258.5" x2="761.7" y2="258.5" stroke="#5a5a5a" stroke-width="1.1"/><path d="M768.2,258.5 L760.2,255.5 L761.4000000000001,258.5 L760.2,261.5 Z" fill="#5a5a5a" stroke="#5a5a5a" stroke-width="0.4" stroke-linejoin="round"/>
<line x1="722.5" y1="292.5" x2="761.7" y2="292.5" stroke="#5a5a5a" stroke-width="1.1"/><path d="M768.2,292.5 L760.2,289.5 L761.4000000000001,292.5 L760.2,295.5 Z" fill="#5a5a5a" stroke="#5a5a5a" stroke-width="0.4" stroke-linejoin="round"/>
<line x1="722.5" y1="326.5" x2="761.7" y2="326.5" stroke="#5a5a5a" stroke-width="1.1"/><path d="M768.2,326.5 L760.2,323.5 L761.4000000000001,326.5 L760.2,329.5 Z" fill="#5a5a5a" stroke="#5a5a5a" stroke-width="0.4" stroke-linejoin="round"/>
<g mask="url(#fademask)"><rect x="770.5" y="38.2" width="141.6" height="28.8" rx="6.5" fill="#fcf2c4" stroke="#1e1e1e" stroke-width="1.3"/><text x="807" y="57" font-family="Liberation Sans" font-size="15.4" fill="#111" stroke="#111" stroke-width="0.15" textLength="62.5" lengthAdjust="spacingAndGlyphs">Question</text><rect x="770.8" y="74.0" width="32.6" height="29.0" rx="6.5" fill="#d6f2fa" stroke="#1e1e1e" stroke-width="1.3"/><rect x="807.1" y="74.0" width="32.6" height="29.0" rx="6.5" fill="#d6f2fa" stroke="#1e1e1e" stroke-width="1.3"/><rect x="843.4" y="74.0" width="32.6" height="29.0" rx="6.5" fill="#d6f2fa" stroke="#1e1e1e" stroke-width="1.3"/><rect x="879.7" y="74.0" width="32.6" height="29.0" rx="6.5" fill="#d6f2fa" stroke="#1e1e1e" stroke-width="1.3"/><rect x="770.8" y="108.0" width="32.6" height="29.0" rx="6.5" fill="#d6f2fa" stroke="#1e1e1e" stroke-width="1.3"/><rect x="807.1" y="108.0" width="32.6" height="29.0" rx="6.5" fill="#d6f2fa" stroke="#1e1e1e" stroke-width="1.3"/><rect x="843.4" y="108.0" width="32.6" height="29.0" rx="6.5" fill="#d6f2fa" stroke="#1e1e1e" stroke-width="1.3"/><rect x="879.7" y="108.0" width="32.6" height="29.0" rx="6.5" fill="#d6f2fa" stroke="#1e1e1e" stroke-width="1.3"/><rect x="770.8" y="142.0" width="32.6" height="29.0" rx="6.5" fill="#d6f2fa" stroke="#1e1e1e" stroke-width="1.3"/><rect x="807.1" y="142.0" width="32.6" height="29.0" rx="6.5" fill="#d6f2fa" stroke="#1e1e1e" stroke-width="1.3"/><rect x="843.4" y="142.0" width="32.6" height="29.0" rx="6.5" fill="#d6f2fa" stroke="#1e1e1e" stroke-width="1.3"/><rect x="879.7" y="142.0" width="32.6" height="29.0" rx="6.5" fill="#d6f2fa" stroke="#1e1e1e" stroke-width="1.3"/><rect x="770.8" y="176.0" width="32.6" height="29.0" rx="6.5" fill="#d6f2fa" stroke="#1e1e1e" stroke-width="1.3"/><rect x="807.1" y="176.0" width="32.6" height="29.0" rx="6.5" fill="#d6f2fa" stroke="#1e1e1e" stroke-width="1.3"/><rect x="843.4" y="176.0" width="32.6" height="29.0" rx="6.5" fill="#d6f2fa" stroke="#1e1e1e" stroke-width="1.3"/><rect x="879.7" y="176.0" width="32.6" height="29.0" rx="6.5" fill="#d6f2fa" stroke="#1e1e1e" stroke-width="1.3"/><rect x="770.8" y="210.0" width="32.6" height="29.0" rx="6.5" fill="#d6f2fa" stroke="#1e1e1e" stroke-width="1.3"/><rect x="807.1" y="210.0" width="32.6" height="29.0" rx="6.5" fill="#d6f2fa" stroke="#1e1e1e" stroke-width="1.3"/><rect x="843.4" y="210.0" width="32.6" height="29.0" rx="6.5" fill="#d6f2fa" stroke="#1e1e1e" stroke-width="1.3"/><rect x="879.7" y="210.0" width="32.6" height="29.0" rx="6.5" fill="#d6f2fa" stroke="#1e1e1e" stroke-width="1.3"/><rect x="770.8" y="244.0" width="32.6" height="29.0" rx="6.5" fill="#d6f2fa" stroke="#1e1e1e" stroke-width="1.3"/><rect x="807.1" y="244.0" width="32.6" height="29.0" rx="6.5" fill="#d6f2fa" stroke="#1e1e1e" stroke-width="1.3"/><rect x="843.4" y="244.0" width="32.6" height="29.0" rx="6.5" fill="#d6f2fa" stroke="#1e1e1e" stroke-width="1.3"/><rect x="879.7" y="244.0" width="32.6" height="29.0" rx="6.5" fill="#d6f2fa" stroke="#1e1e1e" stroke-width="1.3"/><rect x="770.8" y="278.0" width="32.6" height="29.0" rx="6.5" fill="#d6f2fa" stroke="#1e1e1e" stroke-width="1.3"/><rect x="807.1" y="278.0" width="32.6" height="29.0" rx="6.5" fill="#d6f2fa" stroke="#1e1e1e" stroke-width="1.3"/><rect x="843.4" y="278.0" width="32.6" height="29.0" rx="6.5" fill="#d6f2fa" stroke="#1e1e1e" stroke-width="1.3"/><rect x="879.7" y="278.0" width="32.6" height="29.0" rx="6.5" fill="#d6f2fa" stroke="#1e1e1e" stroke-width="1.3"/><rect x="770.8" y="312.0" width="32.6" height="29.0" rx="6.5" fill="#d6f2fa" stroke="#1e1e1e" stroke-width="1.3"/><rect x="807.1" y="312.0" width="32.6" height="29.0" rx="6.5" fill="#d6f2fa" stroke="#1e1e1e" stroke-width="1.3"/><rect x="843.4" y="312.0" width="32.6" height="29.0" rx="6.5" fill="#d6f2fa" stroke="#1e1e1e" stroke-width="1.3"/><rect x="879.7" y="312.0" width="32.6" height="29.0" rx="6.5" fill="#d6f2fa" stroke="#1e1e1e" stroke-width="1.3"/></g>
<text x="228.3" y="377.2" font-family="Liberation Sans" font-size="15.2" fill="#111" stroke="#111" stroke-width="0.12" textLength="70.8" lengthAdjust="spacingAndGlyphs">Population</text>
<g transform="translate(0,0)" fill="none" stroke="#111" stroke-linecap="round"><path d="M305.1,367.4 C306.5,365.6 309,364.8 312.1,364.9 C315.5,365 317.8,366.5 317.6,368.6 C317.4,371.2 314.6,372.8 310.7,373.4" stroke-width="1.1"/><path d="M310.9,365.4 C310,369.5 308.6,374 307.4,377.6" stroke-width="1.5"/></g>
<path d="M321.4,372.6 L319.7,378.8 C319.6,380 320.6,380.2 322.4,378.6 M318.9,374.6 H322.6" fill="none" stroke="#111" stroke-width="0.9" stroke-linecap="round"/>
<path d="M498.9,368.4 C498.6,366.6 497.2,365.8 495.4,365.8 C493.4,365.8 492.2,367 492.4,368.8 C492.7,371 497.8,372.6 497.9,375.6 C498,377.6 496.4,378.7 494.2,378.7 C491.6,378.7 489.6,377.8 489.1,376.3" fill="none" stroke="#111" stroke-width="1.4" stroke-linecap="round"/>
<path d="M502.8,373.6 L501,379.2 C500.9,380.4 501.9,380.6 503.6,379.2 M500.4,375.4 H504" fill="none" stroke="#111" stroke-width="0.9" stroke-linecap="round"/>
<text x="366.1" y="377.2" font-family="Liberation Sans" font-size="15.2" fill="#111" stroke="#111" stroke-width="0.12" textLength="116" lengthAdjust="spacingAndGlyphs">Aggregation Sets</text>
<text x="635.8" y="377.2" font-family="Liberation Sans" font-size="15.2" fill="#111" stroke="#111" stroke-width="0.12" textLength="71.2" lengthAdjust="spacingAndGlyphs">Population</text>
<g transform="translate(406.3,0)" fill="none" stroke="#111" stroke-linecap="round"><path d="M305.1,367.4 C306.5,365.6 309,364.8 312.1,364.9 C315.5,365 317.8,366.5 317.6,368.6 C317.4,371.2 314.6,372.8 310.7,373.4" stroke-width="1.1"/><path d="M310.9,365.4 C310,369.5 308.6,374 307.4,377.6" stroke-width="1.5"/></g>
<path d="M727.2,372.6 L725.5,378.8 C725.4,380 726.4,380.2 728.2,378.6 M724.7,374.6 H728.4" fill="none" stroke="#111" stroke-width="0.9" stroke-linecap="round"/>
<path d="M729.4,376.7 H737.6 M733.5,372.6 V380.9" fill="none" stroke="#111" stroke-width="0.85"/>
<text x="739.6" y="379.6" font-family="Liberation Serif" font-size="11.5" fill="#111" textLength="5.2" lengthAdjust="spacingAndGlyphs">1</text>
<line x1="918.5" y1="28" x2="918.5" y2="367.5" stroke="#a8a8a8" stroke-width="1"/>
<rect x="962.6" y="37.2" width="260.8" height="344.2" rx="5" fill="#fff" stroke="#1a1a1a" stroke-width="1.4"/>
<path d="M962.6,64.4 V42.2 A5,5 0 0 1 967.6,37.2 H1218.4 A5,5 0 0 1 1223.4,42.2 V64.4 Z" fill="#000" stroke="#000" stroke-width="1.4"/>
<text x="1015.4" y="56.3" font-family="Liberation Sans" font-size="16" fill="#fff" stroke="#fff" stroke-width="0.3" textLength="150.7" lengthAdjust="spacingAndGlyphs">Aggregation Prompt</text>
<text x="966.9" y="77.9" font-family="Liberation Sans" font-size="13.4" fill="#0a0a0a" stroke="#0a0a0a" stroke-width="0.2" textLength="234.2" lengthAdjust="spacingAndGlyphs">You are given a problem and several</text>
<text x="966.9" y="92.4" font-family="Liberation Sans" font-size="13.4" fill="#0a0a0a" stroke="#0a0a0a" stroke-width="0.2" textLength="244.6" lengthAdjust="spacingAndGlyphs">candidate solutions. Some candidates</text>
<text x="966.9" y="106.5" font-family="Liberation Sans" font-size="13.4" fill="#0a0a0a" stroke="#0a0a0a" stroke-width="0.2" textLength="223.4" lengthAdjust="spacingAndGlyphs">may be incorrect or contain errors.</text>
<text x="966.9" y="120.6" font-family="Liberation Sans" font-size="13.4" fill="#0a0a0a" stroke="#0a0a0a" stroke-width="0.2" textLength="202.9" lengthAdjust="spacingAndGlyphs">Aggregate the useful ideas and</text>
<text x="966.9" y="135.4" font-family="Liberation Sans" font-size="13.4" fill="#0a0a0a" stroke="#0a0a0a" stroke-width="0.2" textLength="249.8" lengthAdjust="spacingAndGlyphs">produce a single, high-quality solution.</text>
<text x="966.9" y="152.5" font-family="Liberation Sans" font-size="13.4" fill="#0a0a0a" stroke="#0a0a0a" stroke-width="0.2" textLength="215.2" lengthAdjust="spacingAndGlyphs">Reasoning carefully; if candidates</text>
<text x="966.9" y="166.9" font-family="Liberation Sans" font-size="13.4" fill="#0a0a0a" stroke="#0a0a0a" stroke-width="0.2" textLength="234.2" lengthAdjust="spacingAndGlyphs">disagree, choose the correct path. If</text>
<text x="966.9" y="181.0" font-family="Liberation Sans" font-size="13.4" fill="#0a0a0a" stroke="#0a0a0a" stroke-width="0.2" textLength="204.0" lengthAdjust="spacingAndGlyphs">all are incorrect, then attempt a</text>
<text x="966.9" y="195.0" font-family="Liberation Sans" font-size="13.4" fill="#0a0a0a" stroke="#0a0a0a" stroke-width="0.2" textLength="114.4" lengthAdjust="spacingAndGlyphs">different strategy.</text>
<text x="966.9" y="214.0" font-family="Liberation Sans" font-size="13.4" fill="#0a0a0a" stroke="#0a0a0a" stroke-width="0.2" textLength="238.5" lengthAdjust="spacingAndGlyphs">End with the final result in &lt;format&gt;.</text>
<text x="966.9" y="231.7" font-family="Liberation Sans" font-size="13.4" fill="#0a0a0a" stroke="#0a0a0a" stroke-width="0.2" textLength="134.9" lengthAdjust="spacingAndGlyphs">Problem: &lt;problem&gt;</text>
<text x="966.9" y="250.7" font-family="Liberation Sans" font-size="13.4" fill="#0a0a0a" stroke="#0a0a0a" stroke-width="0.2" textLength="214.4" lengthAdjust="spacingAndGlyphs">Candidate solutions (may contain</text>
<text x="966.9" y="266.2" font-family="Liberation Sans" font-size="13.4" fill="#0a0a0a" stroke="#0a0a0a" stroke-width="0.2" textLength="63.7" lengthAdjust="spacingAndGlyphs">mistakes):</text>
<text x="966.9" y="281.4" font-family="Liberation Sans" font-size="13.4" fill="#0a0a0a" stroke="#0a0a0a" stroke-width="0.2" textLength="162.5" lengthAdjust="spacingAndGlyphs">---------- Solution 1 ----------</text>
<text x="966.9" y="296.9" font-family="Liberation Sans" font-size="13.4" fill="#0a0a0a" stroke="#0a0a0a" stroke-width="0.2" textLength="80.9" lengthAdjust="spacingAndGlyphs">&lt;solution 1&gt;</text>
<text x="966.9" y="312.6" font-family="Liberation Sans" font-size="13.4" fill="#0a0a0a" stroke="#0a0a0a" stroke-width="0.2" textLength="162.5" lengthAdjust="spacingAndGlyphs">---------- Solution 2 ----------</text>
<text x="966.9" y="328.2" font-family="Liberation Sans" font-size="13.4" fill="#0a0a0a" stroke="#0a0a0a" stroke-width="0.2" textLength="80.9" lengthAdjust="spacingAndGlyphs">&lt;solution 2&gt;</text>
<text x="966.9" y="344.4" font-family="Liberation Sans" font-size="13.4" fill="#0a0a0a" stroke="#0a0a0a" stroke-width="0.2" textLength="10.8" lengthAdjust="spacingAndGlyphs">...</text>
<text x="966.9" y="359.5" font-family="Liberation Sans" font-size="13.4" fill="#0a0a0a" stroke="#0a0a0a" stroke-width="0.2" textLength="164.1" lengthAdjust="spacingAndGlyphs">---------- Solution K ----------</text>
<text x="966.9" y="375.6" font-family="Liberation Sans" font-size="13.4" fill="#0a0a0a" stroke="#0a0a0a" stroke-width="0.2" textLength="82.7" lengthAdjust="spacingAndGlyphs">&lt;solution K&gt;</text></svg>
<div class="cap"><div class="j" style="letter-spacing:0.3px">Figure 3:<span style="margin-left:3px"> </span>RSA generates a population of <i>N</i> solutions for a given prompt and recursively updates</div><div class="j" style="letter-spacing:-0.15px">them over <i>T</i> steps. Each update step subsamples <i>K</i> distinct solutions from the current population and</div><div>generates an improved solution with the aggregation prompt. See §<span style="color:#16168c">B</span> for algorithm pseudo-code.</div></div>
</body></html>
